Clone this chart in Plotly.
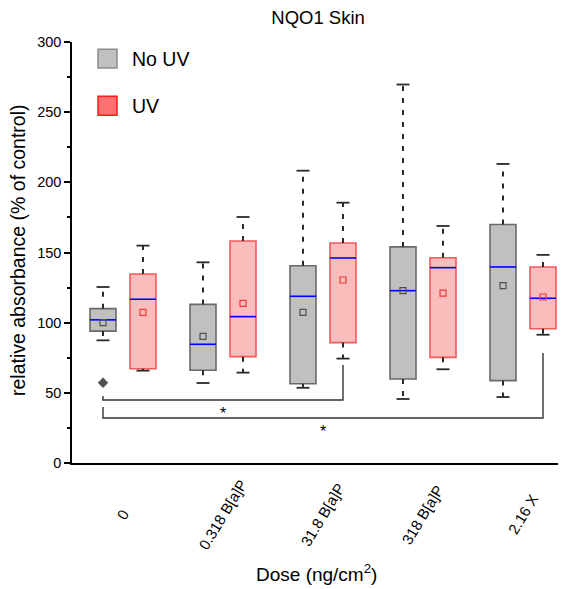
import plotly.graph_objects as go

doses = ["0", "0.318 B[a]P", "31.8 B[a]P", "318 B[a]P", "2.16 X"]

nouv_lower = [87.4, 57.0, 53.6, 45.6, 47.0]
nouv_q1 = [94.0, 66.1, 56.5, 59.9, 58.7]
nouv_median = [102.0, 84.6, 118.8, 122.8, 139.7]
nouv_q3 = [110.0, 113.0, 140.6, 154.0, 169.9]
nouv_upper = [125.4, 143.0, 208.3, 269.7, 213.1]
nouv_mean = [100.0, 90.3, 107.4, 122.8, 126.4]
nouv_outlier_group = [0]
nouv_outlier_value = [57.2]

uv_lower = [65.8, 64.4, 74.4, 66.8, 91.4]
uv_q1 = [67.2, 75.8, 85.8, 75.3, 95.7]
uv_median = [116.7, 104.3, 146.1, 139.2, 117.4]
uv_q3 = [134.7, 158.2, 156.8, 146.3, 139.7]
uv_upper = [154.9, 175.3, 185.5, 168.9, 148.3]
uv_mean = [107.4, 113.8, 130.4, 121.0, 118.3]

# significance brackets
brackets = [
    {"left": (0, "nouv"), "right": (2, "uv"), "line": 44.9, "left_top": 47.8, "right_top": 69.8, "star": 35.0},
    {"left": (0, "nouv"), "right": (4, "uv"), "line": 32.1, "left_top": 39.9, "right_top": 78.4, "star": 22.8},
]

FONT = "Arial, Liberation Sans, sans-serif"
OFF = 0.2
BW = 0.26
CAP = 0.065

def pos(i, s):
    return i - OFF if s == "nouv" else i + OFF

fig = go.Figure()

series = [
    ("nouv", nouv_lower, nouv_q1, nouv_median, nouv_q3, nouv_upper, nouv_mean, "#c0c0c0", "#6a6a6a", "#505050"),
    ("uv", uv_lower, uv_q1, uv_median, uv_q3, uv_upper, uv_mean, "#fbbcbc", "#f25a5a", "#f03a3a"),
]

for s, lo, q1, med, q3, up, mean, fill, edge, meancol in series:
    xs = [pos(i, s) for i in range(len(doses))]
    wx, wy = [], []
    for x, a, b, c, d in zip(xs, lo, q1, q3, up):
        wx += [x, x, None, x, x, None]
        wy += [c, d, None, b, a, None]
    fig.add_trace(go.Scatter(x=wx, y=wy, mode="lines", line=dict(color="#2a2a2a", width=2, dash="5px,7px"),
                             showlegend=False, hoverinfo="skip"))
    cx, cy = [], []
    for x, a, d in zip(xs, lo, up):
        cx += [x - CAP, x + CAP, None, x - CAP, x + CAP, None]
        cy += [d, d, None, a, a, None]
    fig.add_trace(go.Scatter(x=cx, y=cy, mode="lines", line=dict(color="#2a2a2a", width=1.8),
                             showlegend=False, hoverinfo="skip"))
    fig.add_trace(go.Bar(x=xs, base=q1, y=[b - a for a, b in zip(q1, q3)], width=BW,
                         marker=dict(color=fill, line=dict(color=edge, width=1.6)),
                         showlegend=False, hoverinfo="skip"))
    mx, my = [], []
    for x, m in zip(xs, med):
        mx += [x - BW / 2, x + BW / 2, None]
        my += [m, m, None]
    fig.add_trace(go.Scatter(x=mx, y=my, mode="lines", line=dict(color="#0000ff", width=1.6),
                             showlegend=False, hoverinfo="skip"))
    fig.add_trace(go.Scatter(x=xs, y=mean, mode="markers",
                             marker=dict(symbol="square-open", size=6, color=meancol, line=dict(width=1.2)),
                             showlegend=False, hoverinfo="skip"))

fig.add_trace(go.Scatter(x=[pos(i, "nouv") for i in nouv_outlier_group], y=nouv_outlier_value, mode="markers",
                         marker=dict(symbol="diamond", size=8, color="#505050"),
                         showlegend=False, hoverinfo="skip"))

for b in brackets:
    xl = pos(*b["left"])
    xr = pos(*b["right"])
    fig.add_trace(go.Scatter(x=[xl, xl, xr, xr], y=[b["left_top"], b["line"], b["line"], b["right_top"]],
                             mode="lines", line=dict(color="#333333", width=1.4),
                             showlegend=False, hoverinfo="skip"))
    fig.add_annotation(x=(xl + xr) / 2, y=b["star"], xref="x", yref="y", text="*", showarrow=False,
                       font=dict(family=FONT, size=16, color="black"))

for i, d in enumerate(doses):
    fig.add_annotation(x=i, y=-0.1235, xref="x", yref="paper", text=d, textangle=-59, showarrow=False,
                       xanchor="center", yanchor="middle", font=dict(family=FONT, size=15, color="black"))

fig.add_annotation(x=0.504, y=-0.261, xref="paper", yref="paper", text="Dose (ng/cm<sup>2</sup>)",
                   xanchor="center", yanchor="middle",
                   showarrow=False, font=dict(family=FONT, size=19, color="black"))
fig.add_annotation(x=-0.111, y=0.506, xref="paper", yref="paper", text="relative absorbance (% of control)",
                   xanchor="center", yanchor="middle",
                   textangle=-90, showarrow=False, font=dict(family=FONT, size=19.5, color="black"))

legend_items = [("No UV", "#c0c0c0", "#8c8c8c", 0.983, 0.938, 0.96), ("UV", "#ff7070", "#ff1a1a", 0.871, 0.826, 0.847)]
for name, fc, lc, y1, y0, yt in legend_items:
    fig.add_shape(type="rect", xref="paper", yref="paper", x0=0.0535, x1=0.0926, y0=y0, y1=y1,
                  fillcolor=fc, line=dict(color=lc, width=1.5))
    fig.add_annotation(x=0.119, y=yt, xref="paper", yref="paper", text=name, showarrow=False,
                       xanchor="left", yanchor="middle", font=dict(family=FONT, size=19.5, color="black"))

fig.update_layout(
    width=568, height=589,
    margin=dict(l=72, r=10, t=42, b=126),
    paper_bgcolor="white", plot_bgcolor="white",
    barmode="overlay",
    showlegend=False,
    title=dict(text="NQO1 Skin", x=0.56, xanchor="center", y=1 - 18 / 589, yanchor="middle",
               font=dict(family=FONT, size=18.5, color="black")),
    font=dict(family=FONT, color="black"),
    xaxis=dict(range=[-0.51, 4.35], showline=True, linecolor="black", linewidth=1.5, ticks="",
               showticklabels=False, showgrid=False, zeroline=False),
    yaxis=dict(range=[0, 300], dtick=50, showline=True, linecolor="black", linewidth=1.5,
               ticks="outside", ticklen=6, tickwidth=1.5, tickcolor="black",
               minor=dict(dtick=25, ticks="outside", ticklen=3, tickwidth=1.5, tickcolor="black"),
               tickfont=dict(family=FONT, size=14.5, color="black"),
               showgrid=False, zeroline=False),
)

fig.write_html("out.html", config={"displayModeBar": False},
               post_script="document.body.style.margin='0px';")
